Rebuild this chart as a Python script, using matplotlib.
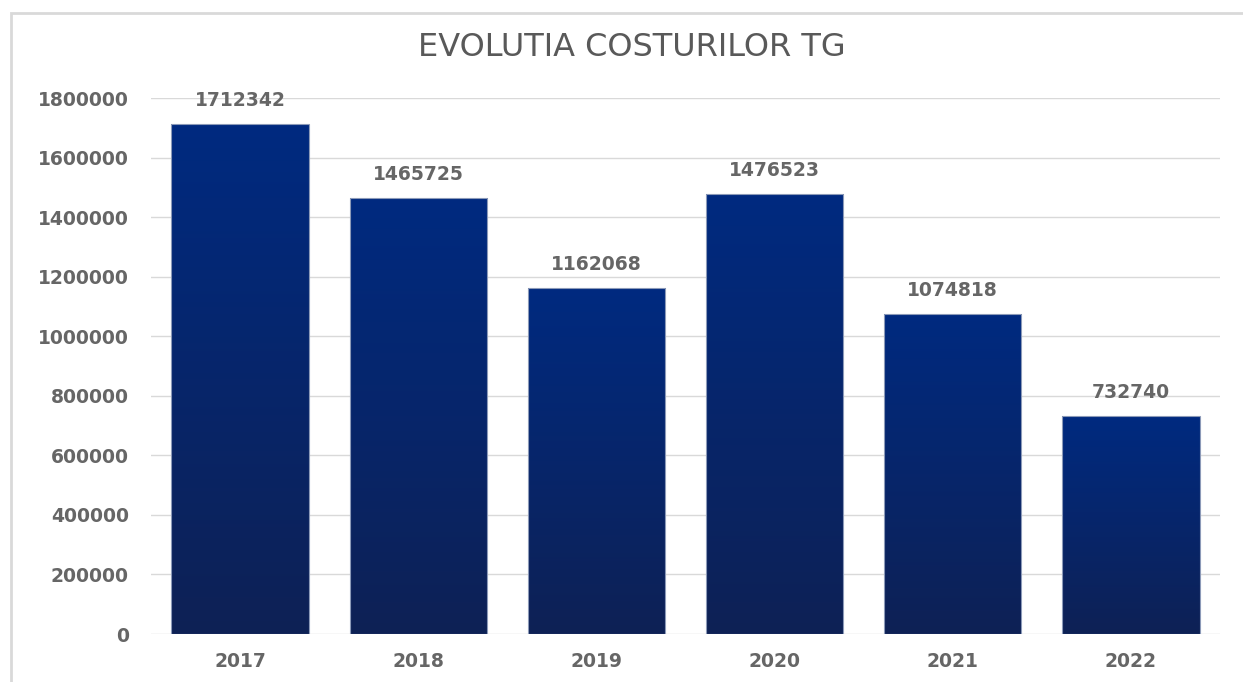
import numpy as np
import matplotlib.pyplot as plt
from matplotlib.patches import Rectangle
from matplotlib.colors import LinearSegmentedColormap

years = ['2017', '2018', '2019', '2020', '2021', '2022']
costs = [1712342, 1465725, 1162068, 1476523, 1074818, 732740]
yticks = [0, 200000, 400000, 600000, 800000, 1000000, 1200000, 1400000, 1600000, 1800000]

W, H = 1243, 682
fig = plt.figure(figsize=(W / 100, H / 100), dpi=100)
ax = fig.add_axes([151 / W, 1 - 634 / H, (1220 - 151) / W, (634 - 98) / H])

# chart frame
fig.patches.append(Rectangle((11 / W, -0.05), 1.0, 1 - 13 / H + 0.05,
                             transform=fig.transFigure, fill=False,
                             edgecolor='#d9d9d9', lw=2))

grad = LinearSegmentedColormap.from_list('g', ['#0e2155', '#002a80'])
x = np.arange(len(years))
bw = 0.77
bars = ax.bar(x, costs, width=bw, color='none', edgecolor='#8c9ab8', lw=0.8, zorder=3)
g = np.linspace(0, 1, 256).reshape(-1, 1)
for b in bars:
    x0, y0 = b.get_x(), b.get_y()
    im = ax.imshow(g, cmap=grad, origin='lower', aspect='auto',
                   extent=[x0, x0 + b.get_width(), y0, y0 + b.get_height()], zorder=2)
    im.set_clip_path(b)

lab = dict(fontsize=13.5, color='#666666', fontweight='bold')
for xi, v in zip(x, costs):
    ax.annotate(str(v), (xi, v), xytext=(0, 10), textcoords='offset points',
                ha='center', va='bottom', **lab)

ax.set_xlim(-0.5, len(years) - 0.5)
ax.set_ylim(0, 1800000)
ax.set_yticks(yticks)
ax.set_yticklabels([str(t) for t in yticks], **lab)
ax.set_xticks(x)
ax.set_xticklabels(years, **lab)
ax.tick_params(length=0)
ax.tick_params(axis='x', pad=13)
ax.tick_params(axis='y', pad=16)
ax.grid(axis='y', color='#d9d9d9', lw=1, zorder=0)
ax.set_axisbelow(True)
for s in ax.spines.values():
    s.set_visible(False)

fig.text(632 / W, 1 - 47 / H, 'EVOLUTIA COSTURILOR TG', ha='center', va='center',
         fontsize=23, color='#595959', family='DejaVu Sans')

fig.savefig('out.png', dpi=100)
